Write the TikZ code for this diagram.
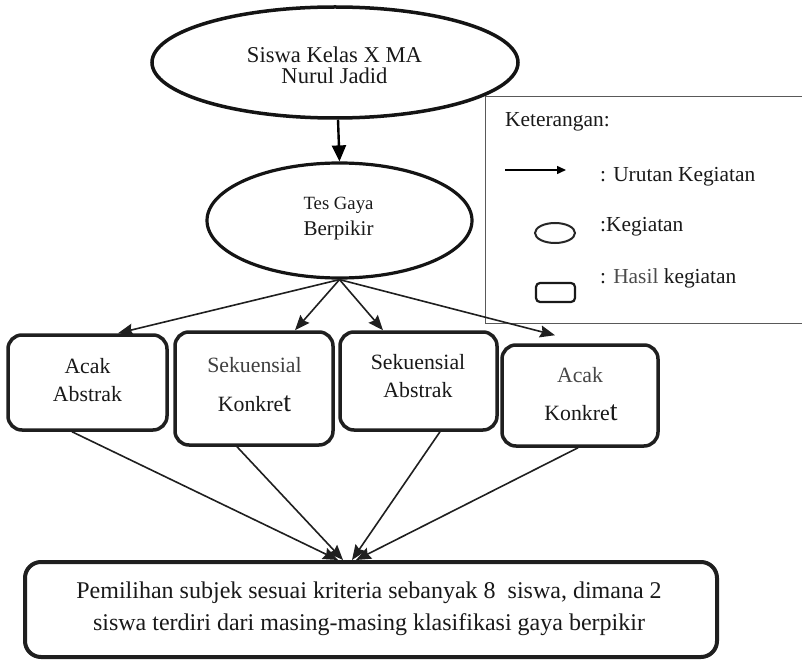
\documentclass[tikz,border=0pt]{standalone}
\usepackage{fontspec}
\setmainfont{Liberation Serif}
\usetikzlibrary{shapes.geometric,arrows.meta}
\begin{document}
\begin{tikzpicture}[x=1pt,y=-1pt,
  bigell/.style={ellipse, draw=black!92, line width=3.5pt, inner sep=0pt},
  resbox/.style={rectangle, rounded corners=14pt, draw=black!88, line width=3.5pt, inner sep=0pt},
  txt/.style={inner sep=0pt, anchor=base, text=black!90},
  ltxt/.style={inner sep=0pt, anchor=base west, text=black!90, font=\fontsize{21.4}{24}\selectfont},
  boxfont/.style={font=\fontsize{21.8}{24}\selectfont},
  conn/.style={line width=1.6pt, draw=black!88, -{Stealth[length=15pt,width=12pt,inset=2pt]}},
]
\useasboundingbox (0,0) rectangle (802,660);
\fill[white] (0,0) rectangle (802,660);

% legend frame
\node[rectangle, draw=black!65, line width=1pt, minimum width=330pt, minimum height=226pt, inner sep=0pt] (legend) at (650,210) {};

% main ellipses
\node[bigell, minimum width=366pt, minimum height=111pt] (top) at (335,62.5) {};
\node[txt, font=\fontsize{22.6}{25}\selectfont] (t1) at (334.5,63) {Siswa Kelas X MA};
\node[txt, font=\fontsize{22.6}{25}\selectfont] (t2) at (334.5,84) {Nurul Jadid};

\node[bigell, line width=3.2pt, minimum width=265pt, minimum height=115pt] (tes) at (339.5,220.5) {};
\node[txt, font=\fontsize{18.7}{22}\selectfont] (tg1) at (338.5,210) {Tes Gaya};
\node[txt, font=\fontsize{21}{24}\selectfont] (tg2) at (338.5,235) {Berpikir};

\draw[line width=2.4pt, draw=black, -{Triangle[length=16pt,width=14pt]}] (top.south) ++(3pt,0) -- (tes.north);

% result boxes
\node[resbox, minimum width=159pt, minimum height=95pt] (aa) at (87.5,382.5) {};
\node[resbox, minimum width=158pt, minimum height=113pt] (sk) at (254,388.5) {};
\node[resbox, minimum width=157pt, minimum height=98pt] (sa) at (418.5,381) {};
\node[resbox, minimum width=156pt, minimum height=101pt] (ak) at (580,395.5) {};
\node[resbox, line width=4pt, rounded corners=16pt, minimum width=692pt, minimum height=95pt] (res) at (371,609.5) {};

\node[txt, boxfont] (aa1) at (87.5,373) {Acak};
\node[txt, boxfont] (aa2) at (87.5,401) {Abstrak};
\node[txt, boxfont, text=black!75] (sk1) at (254.5,372) {Sekuensial};
\node[txt, boxfont] (sk2) at (254.5,411) {Konkre{\fontsize{28}{28}\selectfont t}};
\node[txt, boxfont] (sa1) at (418,369) {Sekuensial};
\node[txt, boxfont] (sa2) at (418,397) {Abstrak};
\node[txt, boxfont, text=black!72] (ak1) at (580,382) {Acak};
\node[txt, boxfont] (ak2) at (581,420) {Konkre{\fontsize{28}{28}\selectfont t}};

\node[txt, font=\fontsize{24}{26}\selectfont] (r1) at (369,598) {Pemilihan subjek sesuai kriteria sebanyak 8\enspace siswa, dimana 2};
\node[txt, font=\fontsize{24}{26}\selectfont] (r2) at (369,630) {siswa terdiri dari masing-masing klasifikasi gaya berpikir};

% connectors from test
\draw[conn] (tes.south) -- ([xshift=30.5pt]aa.north);
\draw[conn] (tes.south) -- ([xshift=41pt]sk.north);
\draw[conn] (tes.south) -- ([xshift=-35.5pt]sa.north);
\draw[conn] (tes.south) -- ([xshift=-25pt,yshift=8pt]ak.north);

% connectors to result
\draw[conn] ([xshift=-15.5pt]aa.south) -- ([xshift=-33pt]res.north);
\draw[conn] ([xshift=-17pt]sk.south) -- ([xshift=-28pt]res.north);
\draw[conn] ([xshift=21.5pt]sa.south) -- ([xshift=-19pt]res.north);
\draw[conn] ([xshift=-2pt]ak.south) -- ([xshift=-15pt]res.north);

% legend content
\node[ltxt] (k0) at (505,127) {Keterangan:};
\coordinate (la1) at (505,170);
\coordinate (la2) at (566,170);
\draw[line width=1.5pt, draw=black, -{Triangle[length=9pt,width=8pt]}] (la1) -- (la2);
\node[ltxt] (k1) at (600,182) {: Urutan Kegiatan};
\node[ellipse, draw=black!85, line width=2pt, minimum width=40pt, minimum height=20pt, inner sep=0pt] (le) at (555,233) {};
\node[ltxt] (k2) at (600,232) {:Kegiatan};
\node[rectangle, rounded corners=4pt, draw=black!90, line width=2.2pt, minimum width=39pt, minimum height=19pt, inner sep=0pt] (lr) at (555.5,292.5) {};
\node[ltxt] (k3) at (600,283) {: {\color{black!70}Hasil} kegiatan};
\end{tikzpicture}
\end{document}
